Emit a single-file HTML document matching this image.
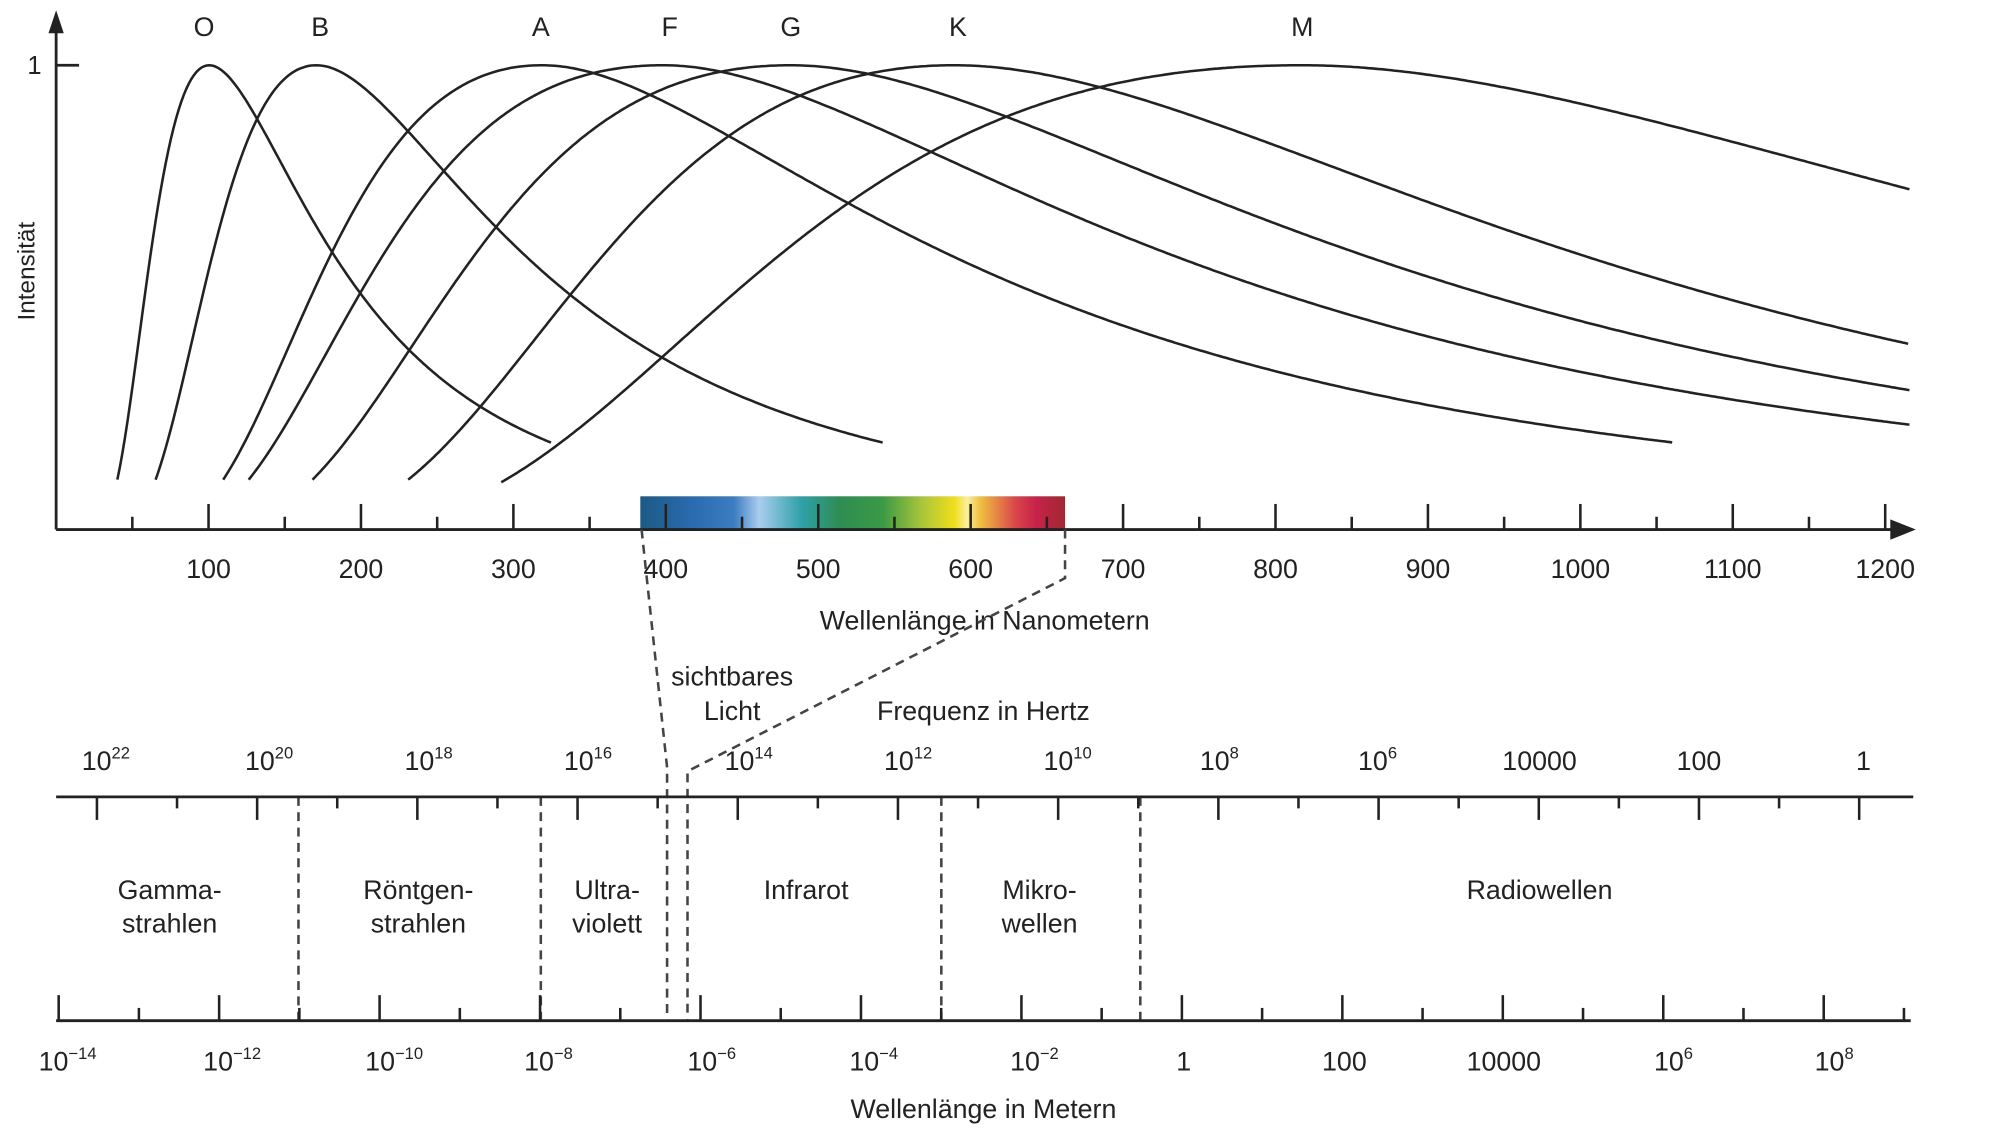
<!DOCTYPE html>
<html><head><meta charset="utf-8"><style>
html,body{margin:0;padding:0;background:#fff;}
svg{display:block;}
text{font-family:"Liberation Sans",sans-serif;fill:#222;}
</style></head><body>
<svg id="s" width="2000" height="1132" viewBox="0 0 1568 885" preserveAspectRatio="none" xmlns="http://www.w3.org/2000/svg">
<defs>
<linearGradient id="sp" x1="0" x2="1" y1="0" y2="0">
<stop offset="0" stop-color="#1b5a84"/>
<stop offset="0.12" stop-color="#2a6aaf"/>
<stop offset="0.22" stop-color="#3c7cc0"/>
<stop offset="0.28" stop-color="#a9cdee"/>
<stop offset="0.38" stop-color="#2ea0a8"/>
<stop offset="0.47" stop-color="#2f8d52"/>
<stop offset="0.57" stop-color="#3a9a45"/>
<stop offset="0.66" stop-color="#a6c43a"/>
<stop offset="0.74" stop-color="#f1de1c"/>
<stop offset="0.77" stop-color="#fbefa0"/>
<stop offset="0.8" stop-color="#f0c040"/>
<stop offset="0.88" stop-color="#da4a4a"/>
<stop offset="0.93" stop-color="#c8224a"/>
<stop offset="1" stop-color="#a02832"/>
</linearGradient>
</defs>
<rect x="502" y="388" width="333" height="26" fill="url(#sp)"/>
<g stroke="#222" stroke-width="2.2" fill="none">
<line x1="44" y1="414" x2="1492" y2="414"/>
<line x1="44" y1="414" x2="44" y2="20"/>
<line x1="44" y1="51" x2="62" y2="51"/>
</g>
<polygon points="44,8 38,26 50,26" fill="#222"/>
<polygon points="1502,414 1482,406 1482,422" fill="#222"/>
<g id="nmt" stroke="#222" stroke-width="2"></g>
<g id="curves" stroke="#222" stroke-width="2" fill="none"></g>
<text x="27" y="58" font-size="20" text-anchor="middle">1</text>
<text transform="translate(27,212) rotate(-90)" font-size="19" text-anchor="middle">Intensität</text>
<g font-size="21" text-anchor="middle">
<text x="160" y="28">O</text><text x="251" y="28">B</text><text x="424" y="28">A</text>
<text x="525" y="28">F</text><text x="620" y="28">G</text><text x="751" y="28">K</text><text x="1021" y="28">M</text>
</g>
<g font-size="21" text-anchor="middle" id="nml"></g>
<text x="772" y="492" font-size="21" text-anchor="middle">Wellenlänge in Nanometern</text>
<g stroke="#444" stroke-width="2" stroke-dasharray="7,5" fill="none">
<polyline points="503,414 523,600 523,798"/>
<polyline points="835,414 835,452 539,603 539,798"/>
<line x1="234" y1="623" x2="234" y2="798"/>
<line x1="424" y1="623" x2="424" y2="798"/>
<line x1="738" y1="623" x2="738" y2="798"/>
<line x1="894" y1="623" x2="894" y2="798"/>
</g>
<text x="574" y="536" font-size="21" text-anchor="middle">sichtbares</text>
<text x="574" y="563" font-size="21" text-anchor="middle">Licht</text>
<text x="771" y="563" font-size="21" text-anchor="middle">Frequenz in Hertz</text>
<g stroke="#222" stroke-width="2.2">
<line x1="44" y1="623" x2="1500" y2="623"/>
<line x1="44" y1="798" x2="1498" y2="798"/>
</g>
<g id="lt" stroke="#222" stroke-width="2"></g>
<g font-size="21" text-anchor="middle">
<text x="83" y="602">10<tspan font-size="13" dy="-9">22</tspan></text>
<text x="211" y="602">10<tspan font-size="13" dy="-9">20</tspan></text>
<text x="336" y="602">10<tspan font-size="13" dy="-9">18</tspan></text>
<text x="461" y="602">10<tspan font-size="13" dy="-9">16</tspan></text>
<text x="587" y="602">10<tspan font-size="13" dy="-9">14</tspan></text>
<text x="712" y="602">10<tspan font-size="13" dy="-9">12</tspan></text>
<text x="837" y="602">10<tspan font-size="13" dy="-9">10</tspan></text>
<text x="956" y="602">10<tspan font-size="13" dy="-9">8</tspan></text>
<text x="1080" y="602">10<tspan font-size="13" dy="-9">6</tspan></text>
<text x="1207" y="602">10000</text>
<text x="1332" y="602">100</text>
<text x="1461" y="602">1</text>
<text x="53" y="837">10<tspan font-size="13" dy="-9">−14</tspan></text>
<text x="182" y="837">10<tspan font-size="13" dy="-9">−12</tspan></text>
<text x="309" y="837">10<tspan font-size="13" dy="-9">−10</tspan></text>
<text x="430" y="837">10<tspan font-size="13" dy="-9">−8</tspan></text>
<text x="558" y="837">10<tspan font-size="13" dy="-9">−6</tspan></text>
<text x="685" y="837">10<tspan font-size="13" dy="-9">−4</tspan></text>
<text x="811" y="837">10<tspan font-size="13" dy="-9">−2</tspan></text>
<text x="928" y="837">1</text>
<text x="1054" y="837">100</text>
<text x="1179" y="837">10000</text>
<text x="1312" y="837">10<tspan font-size="13" dy="-9">6</tspan></text>
<text x="1438" y="837">10<tspan font-size="13" dy="-9">8</tspan></text>
<text x="133" y="703">Gamma-</text><text x="133" y="729">strahlen</text>
<text x="328" y="703">Röntgen-</text><text x="328" y="729">strahlen</text>
<text x="476" y="703">Ultra-</text><text x="476" y="729">violett</text>
<text x="632" y="703">Infrarot</text>
<text x="815" y="703">Mikro-</text><text x="815" y="729">wellen</text>
<text x="1207" y="703">Radiowellen</text>
</g>
<text x="771" y="874" font-size="21" text-anchor="middle">Wellenlänge in Metern</text>
<script>
var NS="http://www.w3.org/2000/svg";
function el(p,t,a){var e=document.createElementNS(NS,t);for(var k in a)e.setAttribute(k,a[k]);document.getElementById(p).appendChild(e);return e;}
for(var n=50;n<=1200;n+=50){var x=44+1.195*n;var maj=n%100==0;
el("nmt","line",{x1:x,y1:414,x2:x,y2:maj?394:404});
if(maj){var t=el("nml","text",{x:x,y:452});t.textContent=n;}}
for(var i=0;i<12;i++){var x=76+125.6*i;el("lt","line",{x1:x,y1:623,x2:x,y2:641});
if(i<11){var xm=x+62.8;el("lt","line",{x1:xm,y1:623,x2:xm,y2:632});}}
for(var i=0;i<24;i++){var x=46+62.9*i;var maj=(i%2==0);
el("lt","line",{x1:x,y1:798,x2:x,y2:maj?778:788});}
function P(u){return Math.pow(u,-5)/(Math.exp(4.965/u)-1)*(Math.exp(4.965)-1);}
var C=[[164,92,375,432,346],[248,122,375,692,346],[425,175,375,1312,346],[520,195,375,1497,332],[620,245,375,1497,305],[748,320,375,1497,269],[1020,393,377,1497,148]];
var O=44,Y0=414,H=363;
C.forEach(function(c){var pk=c[0]-O;
var us=(c[1]-O)/pk,ue=(c[3]-O)/pk;
var vs=(Y0-c[2])/H,ve=(Y0-c[4])/H;
var kl=Math.log(vs)/Math.log(P(us)),kr=Math.log(ve)/Math.log(P(ue));
var d="";
for(var x=c[1];x<=c[3];x+=2){var u=(x-O)/pk;var v=P(u);v=Math.pow(v,u<1?kl:kr);
var y=Y0-H*v;d+=(d?"L":"M")+x.toFixed(1)+","+y.toFixed(1);}
el("curves","path",{d:d});});
</script>
</svg>
</body></html>
